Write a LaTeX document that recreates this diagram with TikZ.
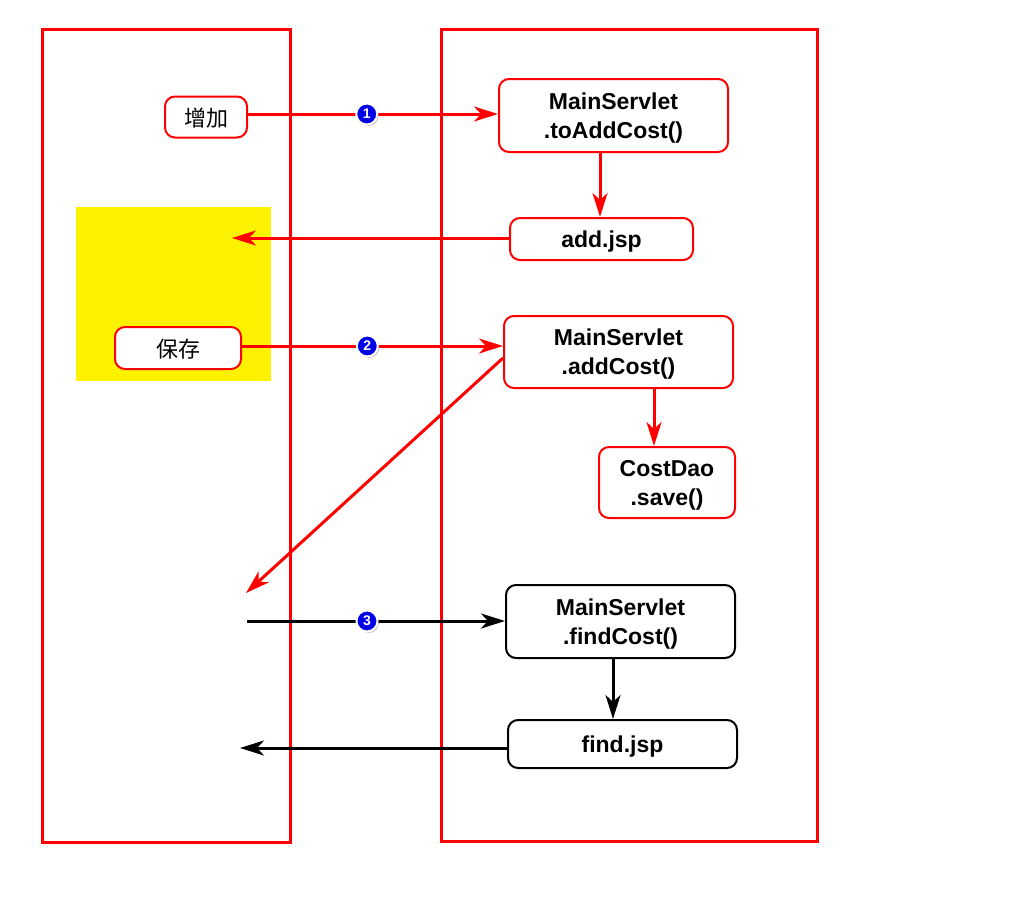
\documentclass[tikz,border=0pt]{standalone}
\usepackage{fontspec}
\setmainfont{Liberation Sans}
\newfontfamily\cjk{Noto Sans CJK SC}
\usetikzlibrary{arrows.meta,shadows}
\definecolor{lanered}{RGB}{255,0,0}
\definecolor{stepblue}{RGB}{0,0,230}
\tikzset{
  lane/.style={draw=lanered, line width=3pt},
  rbox/.style={draw=lanered, line width=2pt, rounded corners=10pt, fill=white,
    align=center, font=\fontsize{23}{29}\selectfont\bfseries, inner sep=0pt, text depth=0pt},
  kbox/.style={rbox, draw=black},
  cbox/.style={rbox, font=\fontsize{22}{26}\selectfont\cjk},
  redflow/.style={draw=lanered, line width=3pt, -{Stealth[length=24pt,width=15pt,inset=7pt]}},
  blackflow/.style={redflow, draw=black},
  badge/.style={circle, fill=stepblue, draw=white, line width=2pt, minimum size=21pt,
    inner sep=0pt, text=white, font=\fontsize{14}{14}\selectfont\bfseries, text depth=0pt,
    drop shadow={shadow xshift=1.5pt, shadow yshift=-1.5pt, opacity=0.45}}
}
\begin{document}
\begin{tikzpicture}[x=1pt,y=-1pt]
\useasboundingbox (0,0) rectangle (1024,907);
% yellow page area
\fill[yellow] (76,207) rectangle (271,381);
% two swimlanes: browser and server
\draw[lane] (42,30) rectangle (290,842);
\draw[lane] (441,30) rectangle (817,841);

% browser side
\node[cbox, minimum width=82pt, minimum height=41pt] (add) at (206,117) {增加};
\node[cbox, minimum width=126pt, minimum height=42pt] (save) at (178,348) {保存};

% server side
\node[rbox, minimum width=229pt, minimum height=73pt] (toadd) at (613.5,115.5) {MainServlet\\.toAddCost()};
\node[rbox, minimum width=183pt, minimum height=42pt] (addjsp) at (601.5,239) {add.jsp};
\node[rbox, minimum width=229pt, minimum height=72pt] (addcost) at (618.5,352) {MainServlet\\.addCost()};
\node[rbox, minimum width=136pt, minimum height=71pt] (dao) at (667,482.5) {CostDao\\.save()};
\node[kbox, minimum width=229pt, minimum height=73pt] (find) at (620.5,621.5) {MainServlet\\.findCost()};
\node[kbox, minimum width=229pt, minimum height=48pt] (findjsp) at (622.5,744) {find.jsp};

% free ends on the browser side
\coordinate (back1) at (232,238);
\coordinate (redir) at (246,593);
\coordinate (req3) at (247,621);
\coordinate (back3) at (240,748);

% step 1
\draw[redflow] (add.east |- 0,114) -- (toadd.west |- 0,114) node[badge, pos=0.475] {1};
\draw[redflow] (toadd.south -| 600,0) -- (addjsp.north -| 600,0);
\draw[redflow] (addjsp.west |- back1) -- (back1);
% step 2
\draw[redflow] (save.east |- 0,346) -- (addcost.west |- 0,346) node[badge, pos=0.48] {2};
\draw[redflow] (addcost.west |- 0,358) -- (redir);
\draw[redflow] (addcost.south -| 654,0) -- (dao.north -| 654,0);
% step 3
\draw[blackflow] (req3) -- (find.west |- req3) node[badge, pos=0.465] {3};
\draw[blackflow] (find.south -| 613,0) -- (findjsp.north -| 613,0);
\draw[blackflow] (findjsp.west |- back3) -- (back3);
\end{tikzpicture}
\end{document}
